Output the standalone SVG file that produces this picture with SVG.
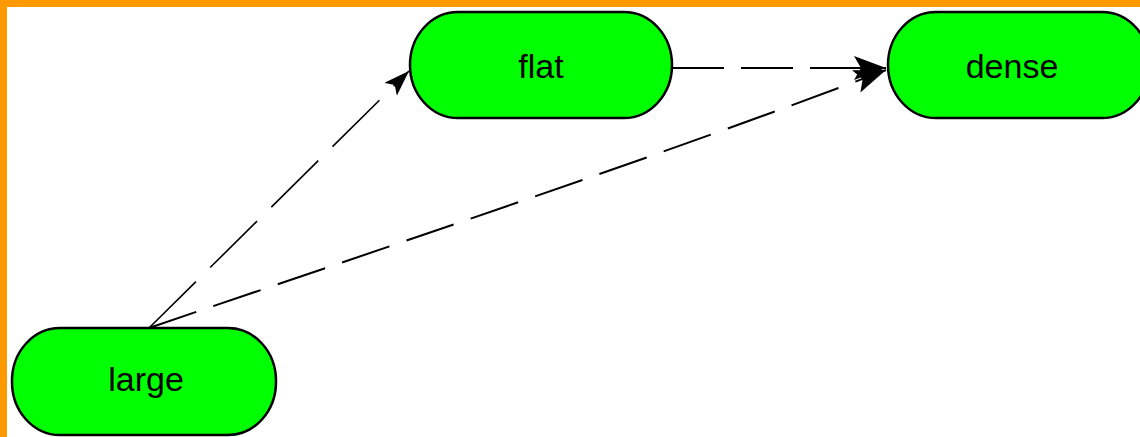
<svg xmlns="http://www.w3.org/2000/svg" width="1140" height="437" viewBox="0 0 1140 437">
<style>
.node rect{fill:#00ff00;stroke:#000;stroke-width:2.5}
.node text{font-family:"Liberation Sans",Arial,sans-serif;font-size:34px;fill:#000;text-anchor:middle}
.edge{fill:none;stroke:#000}
</style>
<defs>
<marker id="arr" markerUnits="userSpaceOnUse" markerWidth="34" markerHeight="26" refX="32" refY="12" orient="auto" viewBox="0 0 34 26">
<path d="M0,0 L32,12 L0,24 L7,12 z" fill="#000"/>
</marker>
<marker id="arr2" markerUnits="userSpaceOnUse" markerWidth="28" markerHeight="20" refX="26" refY="9" orient="auto" viewBox="0 0 28 20">
<path d="M0,0 L26,9 L0,18 L6,9 z" fill="#000"/>
</marker>
</defs>
<rect x="0" y="0" width="1140" height="437" fill="#fff"/>
<rect x="0" y="0" width="1140" height="7" fill="#ff9900"/>
<rect x="0" y="0" width="7" height="437" fill="#ff9900"/>
<g id="connectors">
<path class="edge" d="M149,328 L409,71" stroke-width="1.6" stroke-dasharray="66,20" marker-end="url(#arr2)"/>
<path class="edge" d="M672,68 L886,68" stroke-width="2.2" stroke-dasharray="52,17" marker-end="url(#arr)"/>
<path class="edge" d="M149,328 C360,256 650,160 886,70" stroke-width="2" stroke-dasharray="50,18" marker-end="url(#arr)"/>
</g>
<g id="node-flat" class="node">
<rect x="410" y="12" width="262" height="106" rx="48" ry="53"/>
<text x="541" y="78">flat</text>
</g>
<g id="node-dense" class="node">
<rect x="888" y="12" width="262" height="106" rx="48" ry="53"/>
<text x="1012" y="78">dense</text>
</g>
<g id="node-large" class="node">
<rect x="12" y="328" width="264" height="107" rx="48" ry="53"/>
<text x="146" y="391">large</text>
</g>
</svg>
